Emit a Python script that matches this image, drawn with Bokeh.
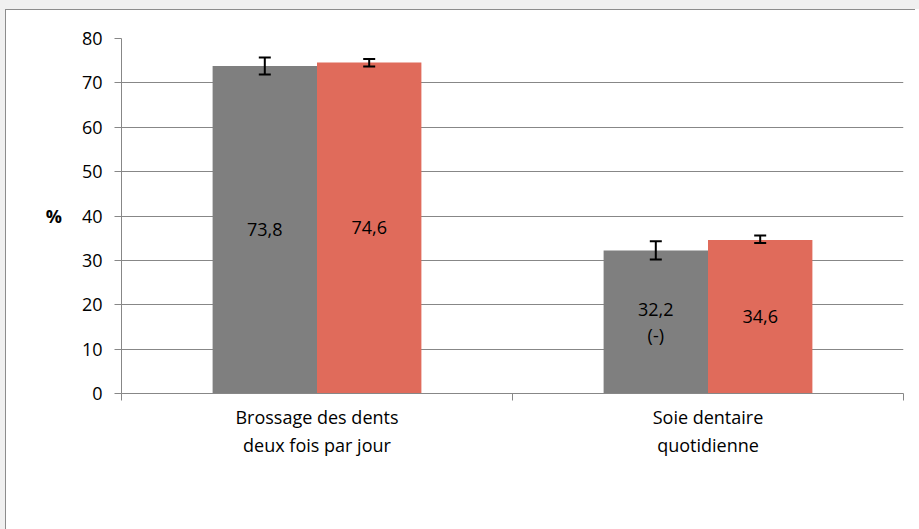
import numpy as np
from bokeh.plotting import figure
from bokeh.models import (ColumnDataSource, Range1d, LinearAxis,
                          FixedTicker, Whisker, TeeHead, Legend, LegendItem)
from bokeh.embed import file_html
from bokeh.resources import INLINE
from bokeh.core.properties import value

categories = ["Brossage des dents\ndeux fois par jour", "Soie dentaire\nquotidienne"]
series_names = ["Région", "Québec"]
region = [73.8, 32.2]
quebec = [74.6, 34.6]
region_low = [71.9, 30.2]
region_high = [75.7, 34.3]
quebec_low = [73.7, 33.9]
quebec_high = [75.4, 35.6]
region_labels = ["73,8", "32,2\n(-)"]
quebec_labels = ["74,6", "34,6"]
y_ticks = [0, 10, 20, 30, 40, 50, 60, 70, 80]

FONT = "Open Sans"
FS = "18px"
GRAY = "#7f7f7f"
RED = "#e06b5b"
AXIS = "#878787"
BW = 0.267
OFF = BW / 2

n = len(categories)
centers = np.arange(n) + 0.5
line1 = [c.split("\n")[0] for c in categories]
line2 = [c.split("\n")[1] for c in categories]

src = ColumnDataSource(dict(
    xr=centers - OFF, xq=centers + OFF,
    region=region, quebec=quebec,
    region_mid=[v / 2 for v in region], quebec_mid=[v / 2 for v in quebec],
    region_low=region_low, region_high=region_high,
    quebec_low=quebec_low, quebec_high=quebec_high,
    region_lab=region_labels, quebec_lab=quebec_labels,
))

p = figure(x_range=Range1d(0, n), y_range=Range1d(0, 80),
           frame_width=782, frame_height=355, output_backend="svg", toolbar_location=None,
           x_axis_location=None, min_border_left=115, min_border_right=12,
           min_border_top=28, min_border_bottom=0)
p.styles = {"border-left": "1px solid #8c8c8c", "border-top": "1px solid #8c8c8c"}
p.outline_line_color = None
p.background_fill_color = "white"
p.border_fill_color = "white"

r1 = p.vbar(x="xr", top="region", width=BW, source=src, fill_color=GRAY, line_color=None)
r2 = p.vbar(x="xq", top="quebec", width=BW, source=src, fill_color=RED, line_color=None)

for xcol, lo, hi in [("xr", "region_low", "region_high"), ("xq", "quebec_low", "quebec_high")]:
    w = Whisker(source=src, base=xcol, lower=lo, upper=hi, level="overlay",
                line_color="black", line_width=2,
                upper_head=TeeHead(size=12, line_width=2, line_color="black"),
                lower_head=TeeHead(size=12, line_width=2, line_color="black"))
    p.add_layout(w)

for xcol, ycol, tcol in [("xr", "region_mid", "region_lab"), ("xq", "quebec_mid", "quebec_lab")]:
    p.text(x=xcol, y=ycol, text=tcol, source=src,
           text_align="center", text_baseline="middle", text_font=value(FONT),
           text_font_size=FS, text_color="black", text_line_height=1.06)

# y axis
p.yaxis.ticker = FixedTicker(ticks=y_ticks)
p.yaxis.major_tick_out = 7
p.yaxis.major_tick_in = 0
p.yaxis.minor_tick_line_color = None
p.yaxis.axis_line_color = AXIS
p.yaxis.major_tick_line_color = AXIS
p.yaxis.major_label_text_font = FONT
p.yaxis.major_label_text_font_size = FS
p.yaxis.major_label_text_color = "black"
p.yaxis.major_label_standoff = 12
p.yaxis.axis_label = "%"
p.yaxis.axis_label_orientation = "horizontal"
p.yaxis.axis_label_text_font = FONT
p.yaxis.axis_label_text_font_size = FS
p.yaxis.axis_label_text_font_style = "bold"
p.yaxis.axis_label_text_color = "black"
p.yaxis.axis_label_standoff = 17

p.ygrid.grid_line_color = AXIS
p.xgrid.grid_line_color = None

# x axis, first label line: labels at category centres, minor ticks at category boundaries
x_axis = LinearAxis(ticker=FixedTicker(ticks=list(centers), minor_ticks=list(range(n + 1))),
                    major_label_overrides={float(c): lab for c, lab in zip(centers, line1)},
                    axis_line_color=AXIS, major_tick_line_color=None, major_tick_out=0, major_tick_in=0,
                    minor_tick_line_color=AXIS, minor_tick_out=7, minor_tick_in=0,
                    major_label_text_font=FONT, major_label_text_font_size=FS,
                    major_label_text_color="black", major_label_standoff=4)
p.add_layout(x_axis, "below")
# second label line
x_axis2 = LinearAxis(ticker=FixedTicker(ticks=list(centers)),
                     major_label_overrides={float(c): lab for c, lab in zip(centers, line2)},
                     axis_line_color=None, major_tick_line_color=None, major_tick_out=0, major_tick_in=0,
                     minor_tick_line_color=None, minor_tick_out=0, minor_tick_in=0,
                     major_label_text_font=FONT, major_label_text_font_size=FS,
                     major_label_text_color="black", major_label_standoff=1)
p.add_layout(x_axis2, "below")

legend = Legend(items=[LegendItem(label=series_names[0], renderers=[r1]),
                       LegendItem(label=series_names[1], renderers=[r2])],
                orientation="horizontal", location="center",
                label_text_font=FONT, label_text_font_size=FS,
                glyph_width=11, glyph_height=11, spacing=20, label_standoff=6,
                padding=0, border_line_color=None, background_fill_alpha=0, margin=22)
p.add_layout(legend, "below")

html = file_html(p, INLINE)
css = ("<style>html body{margin:0 !important;background:white !important;"
       "border-top:9px solid #f0f0f0 !important;border-left:5px solid #f0f0f0 !important;}</style>")
html = html.replace("</head>", css + "</head>", 1)
open("out.html", "w").write(html)
